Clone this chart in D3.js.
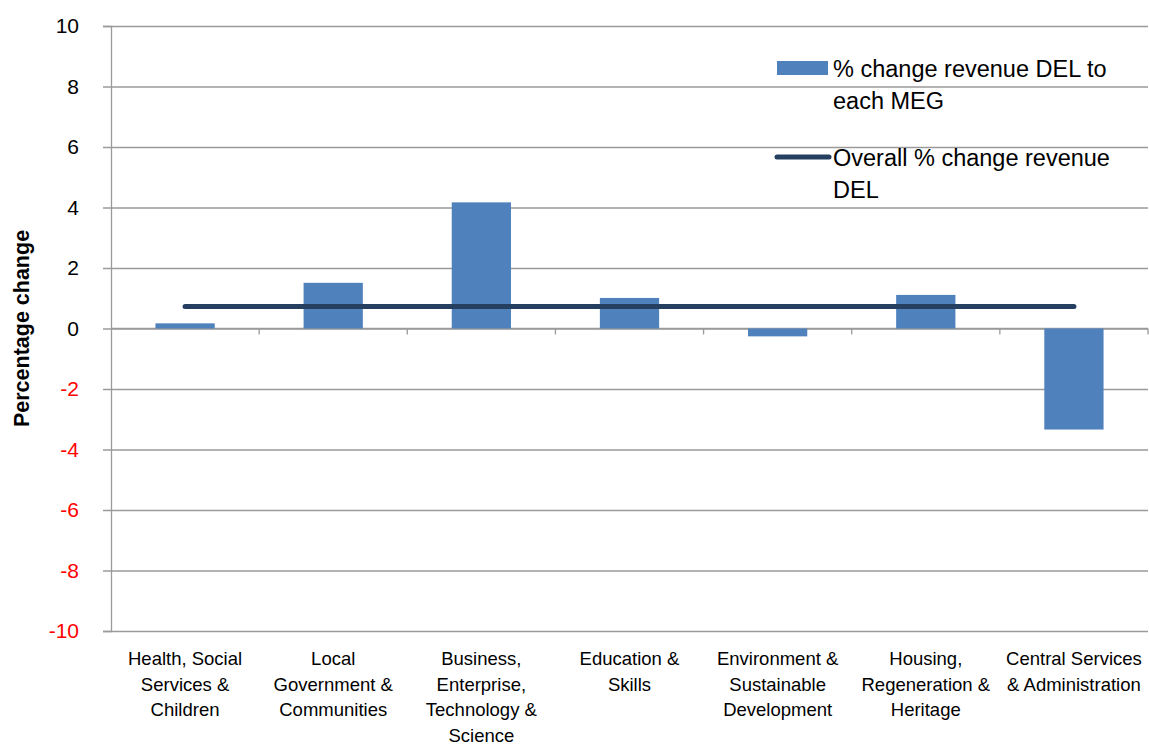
<!DOCTYPE html>
<html>
<head>
<meta charset="utf-8">
<script src="https://cdnjs.cloudflare.com/ajax/libs/d3/7.8.5/d3.min.js"></script>
<style>
  html, body { margin: 0; padding: 0; background: #fff; }
  svg { display: block; font-family: "Liberation Sans", Arial, sans-serif; }
</style>
</head>
<body>
<svg id="chart" width="1149" height="744"></svg>
<script>
// Main expenditure groups (label lines as wrapped under the axis)
const categories = [
  ["Health, Social", "Services &", "Children"],
  ["Local", "Government &", "Communities"],
  ["Business,", "Enterprise,", "Technology &", "Science"],
  ["Education &", "Skills"],
  ["Environment &", "Sustainable", "Development"],
  ["Housing,", "Regeneration &", "Heritage"],
  ["Central Services", "& Administration"]
];
// % change in revenue DEL for each MEG
const megChange = [0.17, 1.51, 4.17, 1.01, -0.26, 1.11, -3.34];
// Overall % change in revenue DEL
const overallChange = 0.73;
const yTicks = [10, 8, 6, 4, 2, 0, -2, -4, -6, -8, -10];
// Legend entries, wrapped onto two lines each
const legendLabels = [
  ["% change revenue DEL to", "each MEG"],
  ["Overall % change revenue", "DEL"]
];

const svg = d3.select("#chart");
const plotLeft = 111, plotRight = 1148, plotTop = 26, plotBottom = 631;

const x = d3.scaleBand()
  .domain(d3.range(categories.length))
  .range([plotLeft, plotRight])
  .paddingInner(0.6)
  .paddingOuter(0.3);
const xb = d3.scaleBand().domain(d3.range(categories.length)).range([plotLeft, plotRight]);
const y = d3.scaleLinear().domain([-10, 10]).range([plotBottom, plotTop]);

const gridColor = "#9a9a9a";

// horizontal gridlines with ticks on the value axis
svg.append("g")
  .attr("transform", `translate(${plotLeft},0)`)
  .call(d3.axisLeft(y).tickValues(yTicks).tickSize(8).tickPadding(24)
    .tickFormat(d => String(d)))
  .call(g => g.select(".domain").attr("stroke", gridColor).attr("stroke-width", 1.3))
  .call(g => g.selectAll(".tick line").attr("stroke", gridColor).attr("stroke-width", 1.3)
    .attr("x2", plotRight - plotLeft).attr("x1", -8))
  .call(g => g.selectAll(".tick text")
    .attr("font-size", 21)
    .attr("font-family", "Liberation Sans, Arial, sans-serif")
    .attr("fill", d => d < 0 ? "#ff0000" : "#000"));

// category axis along zero
const zeroY = y(0);
svg.append("line")
  .attr("x1", plotLeft).attr("x2", plotRight)
  .attr("y1", zeroY).attr("y2", zeroY)
  .attr("stroke", gridColor).attr("stroke-width", 1.3);
const boundaries = d3.range(categories.length).map(i => xb(i) + xb.bandwidth());
svg.append("g").selectAll("line").data(boundaries).join("line")
  .attr("x1", d => d).attr("x2", d => d)
  .attr("y1", zeroY).attr("y2", zeroY + 6)
  .attr("stroke", gridColor).attr("stroke-width", 1.3);

// bars
svg.append("g").selectAll("rect").data(megChange).join("rect")
  .attr("x", (d, i) => x(i))
  .attr("width", x.bandwidth())
  .attr("y", d => y(Math.max(0, d)))
  .attr("height", d => Math.abs(y(d) - y(0)))
  .attr("fill", "#4f81bd");

// overall change line across category centres
const lineData = megChange.map((d, i) => [xb(i) + xb.bandwidth() / 2, overallChange]);
svg.append("path")
  .datum(lineData)
  .attr("d", d3.line().x(d => d[0]).y(d => y(d[1])))
  .attr("fill", "none")
  .attr("stroke", "#243f60")
  .attr("stroke-width", 5)
  .attr("stroke-linecap", "round");

// category labels
const labels = svg.append("g")
  .attr("font-size", 18.5)
  .attr("text-anchor", "middle")
  .attr("fill", "#000");
categories.forEach((lines, i) => {
  const cx = xb(i) + xb.bandwidth() / 2;
  const t = labels.append("text").attr("x", cx).attr("y", 665);
  lines.forEach((ln, j) => {
    t.append("tspan").attr("x", cx).attr("dy", j === 0 ? 0 : 25.5).text(ln);
  });
});

// value axis title
svg.append("text")
  .attr("transform", `translate(29,${(plotTop + plotBottom) / 2}) rotate(-90)`)
  .attr("text-anchor", "middle")
  .attr("font-size", 21.5)
  .attr("font-weight", "bold")
  .text("Percentage change");

// legend
const legend = svg.append("g").attr("font-size", 23.5).attr("fill", "#000");
legend.append("rect")
  .attr("x", 777).attr("y", 61).attr("width", 51).attr("height", 14)
  .attr("fill", "#4f81bd");
legend.append("line")
  .attr("x1", 777).attr("x2", 829).attr("y1", 157).attr("y2", 157)
  .attr("stroke", "#243f60").attr("stroke-width", 5).attr("stroke-linecap", "round");
legendLabels.forEach((lines, k) => {
  const t = legend.append("text").attr("x", 833).attr("y", k === 0 ? 77 : 166);
  lines.forEach((ln, j) => {
    t.append("tspan").attr("x", 833).attr("dy", j === 0 ? 0 : 32).text(ln);
  });
});
</script>
</body>
</html>
